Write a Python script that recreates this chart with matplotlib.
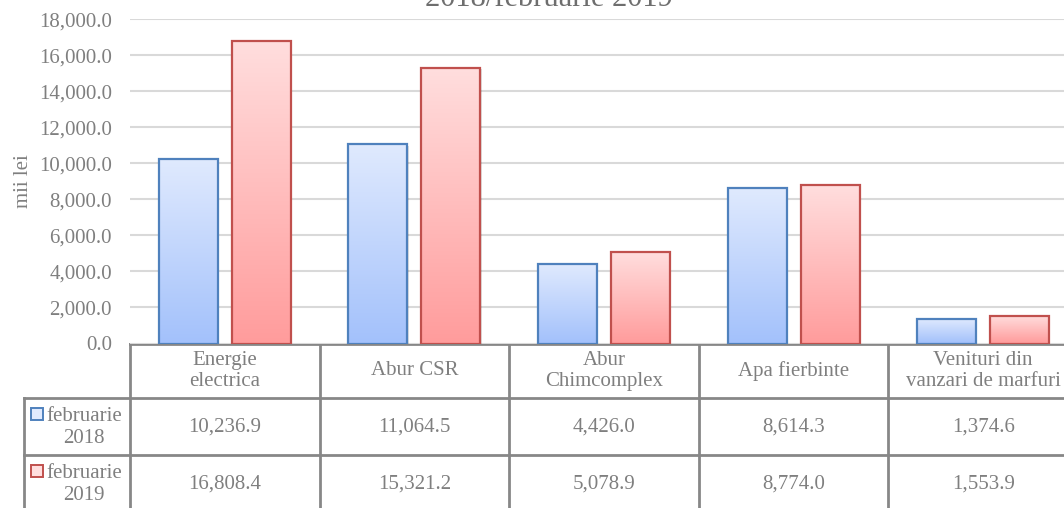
import matplotlib.pyplot as plt
import numpy as np
from matplotlib.patches import Rectangle

categories = ['Energie\nelectrica', 'Abur CSR', 'Abur\nChimcomplex', 'Apa fierbinte',
              'Venituri din\nvanzari de marfuri']
series = ['februarie\n2018', 'februarie\n2019']
feb_2018 = [10236.9, 11064.5, 4426.0, 8614.3, 1374.6]
feb_2019 = [16808.4, 15321.2, 5078.9, 8774.0, 1553.9]
yticks = list(range(0, 18001, 2000))

plt.rcParams['font.family'] = ['Liberation Serif', 'DejaVu Serif']
grey = '#7f7f7f'
W, H = 1064, 508
fig = plt.figure(figsize=(W / 100, H / 100), dpi=100)

# plot area in pixels
left_px, right_px, top_px, base_px = 130, 1078, 19.3, 343.5
ax = fig.add_axes([left_px / W, 1 - base_px / H, (right_px - left_px) / W, (base_px - top_px) / H])

x = np.arange(len(categories)) + 0.5
bw = 0.311
off = 0.1925
styles = [
    (feb_2018, '#4f81bd', ['#a3c1fb', '#e0eafe']),
    (feb_2019, '#c0504d', ['#ff9c9c', '#ffdede']),
]
grad = np.linspace(0, 1, 256).reshape(-1, 1)
for k, (vals, edge, (c0, c1)) in enumerate(styles):
    cmap = plt.matplotlib.colors.LinearSegmentedColormap.from_list('g%d' % k, [c0, c1])
    bars = ax.bar(x + (2 * k - 1) * off, vals, bw, color='none', edgecolor=edge, linewidth=1.6, zorder=3)
    for b in bars:
        x0, w, h = b.get_x(), b.get_width(), b.get_height()
        # soft shadow
        ax.add_patch(Rectangle((x0 + 0.006, -100), w, h, color='black', alpha=0.12, lw=0, zorder=2))
        im = ax.imshow(grad, cmap=cmap, origin='lower', extent=(x0, x0 + w, 0, h),
                       aspect='auto', zorder=2.5, interpolation='bicubic')
        im.set_clip_path(b)

ax.set_xlim(0, len(categories))
ax.set_ylim(0, 18000)
ax.set_yticks(yticks)
ax.yaxis.set_major_formatter(lambda v, p: f'{v:,.1f}')
ax.tick_params(axis='y', length=0, pad=13, labelsize=15, labelcolor=grey)
ax.set_xticks([])
for s in ax.spines.values():
    s.set_visible(False)
ax.grid(axis='y', color='#d9d9d9', linewidth=1.5)
ax.set_axisbelow(True)
ax.set_ylabel('mii lei', fontsize=15, color=grey, labelpad=4)

# data table under the plot
tax = fig.add_axes([0, 0, 1, 1], zorder=-1)
tax.set_xlim(0, W)
tax.set_ylim(H, 0)
tax.axis('off')
colw = (right_px - left_px) / len(categories)
rows = [base_px, 398, 455, 512]
lc = '#878787'
tax.plot([left_px, right_px], [rows[0]] * 2, color=lc, lw=2)
for r in rows[1:3]:
    tax.plot([24, right_px], [r, r], color=lc, lw=2)
for i in range(len(categories) + 1):
    xe = left_px + i * colw
    tax.plot([xe, xe], [rows[0], rows[3]], color=lc, lw=2)
tax.plot([24, 24], [rows[1], rows[3]], color=lc, lw=2)

for i, c in enumerate(categories):
    cx = left_px + (i + 0.5) * colw
    tax.text(cx, (rows[0] + rows[1]) / 2, c, ha='center', va='center', fontsize=15,
             color=grey, linespacing=1.15)
    for j, vals in enumerate([feb_2018, feb_2019]):
        tax.text(cx, (rows[j + 1] + rows[j + 2]) / 2 + 1, f'{vals[i]:,.1f}', ha='center',
                 va='center', fontsize=15, color=grey)

for j, (name, (vals, edge, (c0, c1))) in enumerate(zip(series, styles)):
    cy = (rows[j + 1] + rows[j + 2]) / 2
    tax.add_patch(Rectangle((31, cy - 19), 12, 12, facecolor=c1, edgecolor=edge, lw=1.4))
    tax.text(84, cy + 1, name, ha='center', va='center', fontsize=15, color=grey, linespacing=1.15)

# title: only its last line shows at the top edge
fig.text(549 / W, 1 - 6 / H, '2018/februarie 2019', ha='center', va='baseline',
         fontsize=22, color='#6e6e6e')

fig.savefig('out.png', dpi=100)
